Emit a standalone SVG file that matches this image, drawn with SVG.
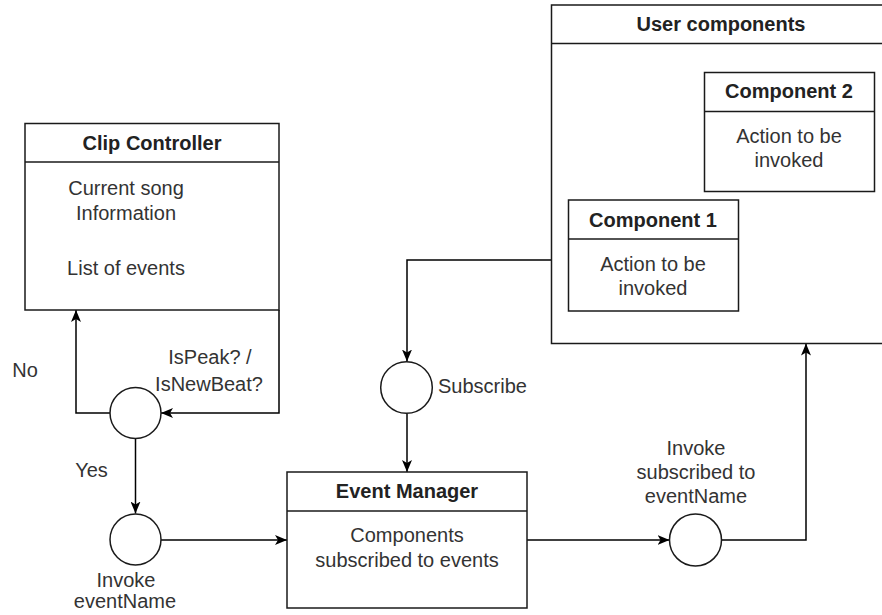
<svg xmlns="http://www.w3.org/2000/svg" width="882" height="615" viewBox="0 0 882 615">
<defs>
<marker id="arr" viewBox="0 0 12 10" refX="12" refY="5" markerWidth="12" markerHeight="10" markerUnits="userSpaceOnUse" orient="auto">
<path d="M0,0 L12,5 L0,10 L3,5 Z" fill="#000"/>
</marker>
<style>
.box{fill:#fff;stroke:#1a1a1a;stroke-width:1.5}
.line{fill:none;stroke:#1a1a1a;stroke-width:1.5}
.conn{fill:none;stroke:#000;stroke-width:1.5}
.title{font-family:"Liberation Sans",Arial,sans-serif;font-size:20px;font-weight:bold;fill:#222;text-anchor:middle}
.txt{font-family:"Liberation Sans",Arial,sans-serif;font-size:20px;fill:#333;text-anchor:middle}
.lt{text-anchor:start}
</style>
</defs>
<rect width="882" height="615" fill="#fff"/>

<g id="connectors">
<polyline class="conn" points="279,310 279,413 161,413" marker-end="url(#arr)"/>
<polyline class="conn" points="110,413 76,413 76,310" marker-end="url(#arr)"/>
<line class="conn" x1="135.5" y1="438.5" x2="135.5" y2="513.5" marker-end="url(#arr)"/>
<line class="conn" x1="161" y1="540" x2="287" y2="540" marker-end="url(#arr)"/>
<polyline class="conn" points="551.5,260 407,260 407,361.5" marker-end="url(#arr)"/>
<line class="conn" x1="407" y1="413.5" x2="407" y2="472" marker-end="url(#arr)"/>
<line class="conn" x1="527" y1="540" x2="669.5" y2="540" marker-end="url(#arr)"/>
<polyline class="conn" points="721.5,540 806,540 806,343.5" marker-end="url(#arr)"/>
</g>

<g id="clip-controller">
<rect class="box" x="25" y="123.5" width="254" height="186.5"/>
<line class="line" x1="25" y1="162" x2="279" y2="162"/>
<text class="title" x="152" y="150">Clip Controller</text>
<text class="txt" x="126" y="195">Current song</text>
<text class="txt" x="126" y="220">Information</text>
<text class="txt" x="126" y="275">List of events</text>
</g>

<g id="decision">
<circle class="box" cx="135.5" cy="413" r="25.5"/>
<text class="txt" x="210" y="364">IsPeak? /</text>
<text class="txt" x="209" y="391">IsNewBeat?</text>
<text class="txt" x="25" y="377">No</text>
<text class="txt" x="91.5" y="477">Yes</text>
</g>

<g id="invoke-event">
<circle class="box" cx="135.5" cy="539.5" r="25.5"/>
<text class="txt" x="126" y="587">Invoke</text>
<text class="txt" x="125" y="608">eventName</text>
</g>

<g id="event-manager">
<rect class="box" x="287" y="472" width="240" height="136"/>
<line class="line" x1="287" y1="511" x2="527" y2="511"/>
<text class="title" x="407" y="498">Event Manager</text>
<text class="txt" x="407" y="542">Components</text>
<text class="txt" x="407" y="567">subscribed to events</text>
</g>

<g id="subscribe">
<circle class="box" cx="406.5" cy="387.5" r="25.8"/>
<text class="txt lt" x="438" y="393">Subscribe</text>
</g>

<g id="invoke-subscribed">
<circle class="box" cx="695.5" cy="540" r="26"/>
<text class="txt" x="696" y="455">Invoke</text>
<text class="txt" x="696" y="479">subscribed to</text>
<text class="txt" x="696" y="503">eventName</text>
</g>

<g id="user-components">
<rect class="box" x="551.5" y="5" width="340" height="338.5"/>
<line class="line" x1="551.5" y1="43.5" x2="891.5" y2="43.5"/>
<text class="title" x="721" y="31">User components</text>
</g>

<g id="component-2">
<rect class="box" x="704.5" y="72.5" width="170" height="119"/>
<line class="line" x1="704.5" y1="111.5" x2="874.5" y2="111.5"/>
<text class="title" x="789" y="98">Component 2</text>
<text class="txt" x="789" y="143">Action to be</text>
<text class="txt" x="789" y="167">invoked</text>
</g>

<g id="component-1">
<rect class="box" x="568.5" y="200" width="170" height="111"/>
<line class="line" x1="568.5" y1="239" x2="738.5" y2="239"/>
<text class="title" x="653" y="226.5">Component 1</text>
<text class="txt" x="653" y="271">Action to be</text>
<text class="txt" x="653" y="295">invoked</text>
</g>
</svg>
